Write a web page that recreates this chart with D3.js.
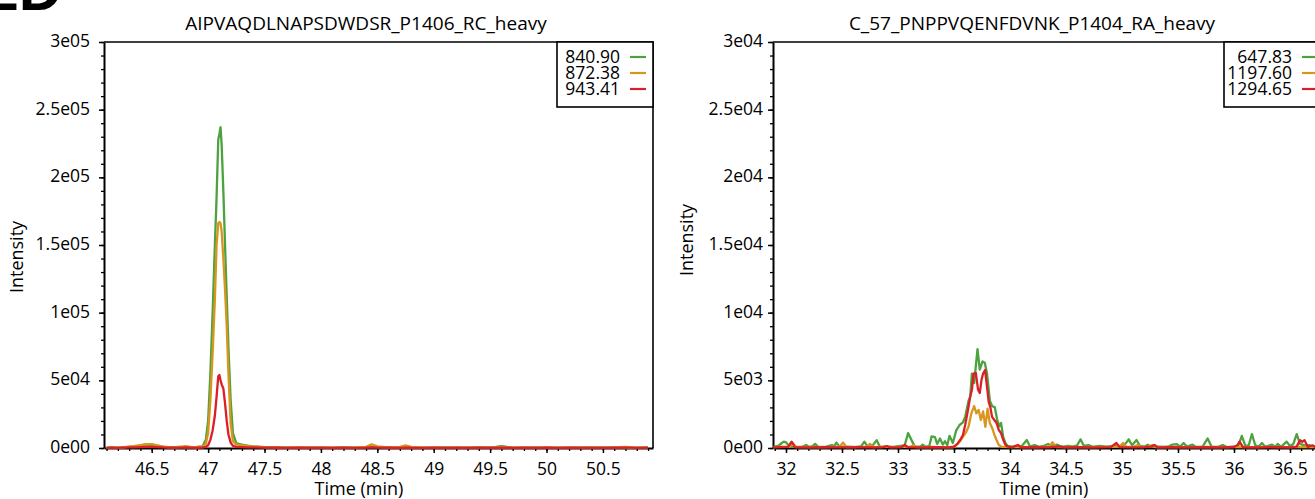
<!DOCTYPE html>
<html>
<head>
<meta charset="utf-8">
<script src="https://cdn.jsdelivr.net/npm/d3@7/dist/d3.min.js"></script>
<style>
  html, body { margin: 0; padding: 0; background: #fff; }
  svg { display: block; }
</style>
</head>
<body>
<svg id="chart" width="1315" height="499"></svg>
<script>
// ---- Panel titles and transition labels ----
const panelLetter = "ED";
const leftTitle = "AIPVAQDLNAPSDWDSR_P1406_RC_heavy";
const rightTitle = "C_57_PNPPVQENFDVNK_P1404_RA_heavy";
const leftMz = ["840.90", "872.38", "943.41"];
const rightMz = ["647.83", "1197.60", "1294.65"];
const seriesColors = ["#4ca23e", "#d8961f", "#dc1f26"];

// ---- Axis ticks ----
const leftYTicks = [0, 5e4, 1e5, 1.5e5, 2e5, 2.5e5, 3e5];
const leftYLabels = ["0e00", "5e04", "1e05", "1.5e05", "2e05", "2.5e05", "3e05"];
const rightYTicks = [0, 5e3, 1e4, 1.5e4, 2e4, 2.5e4, 3e4];
const rightYLabels = ["0e00", "5e03", "1e04", "1.5e04", "2e04", "2.5e04", "3e04"];
const leftXTicks = [46.5, 47, 47.5, 48, 48.5, 49, 49.5, 50, 50.5];
const rightXTicks = [32, 32.5, 33, 33.5, 34, 34.5, 35, 35.5, 36, 36.5];

// ---- Left chromatogram: retention time (min) and intensities ----
const leftTime = [
  46.10, 46.15, 46.20, 46.25, 46.30, 46.35, 46.40, 46.45, 46.50, 46.55, 46.60, 46.65, 46.70, 46.75, 46.80, 46.85, 46.90, 46.95,
  46.98, 47.00, 47.02, 47.04, 47.06, 47.075, 47.09, 47.10, 47.11, 47.12, 47.135, 47.15, 47.165, 47.18, 47.20, 47.22, 47.25,
  47.30, 47.35, 47.40, 47.50, 47.60, 47.70, 47.80, 47.90, 48.00, 48.10, 48.20, 48.30, 48.40, 48.45, 48.50, 48.60, 48.70, 48.75, 48.80,
  48.90, 49.00, 49.10, 49.20, 49.30, 49.40, 49.50, 49.55, 49.60, 49.65, 49.70, 49.80, 49.90, 50.00, 50.10, 50.20, 50.30, 50.40, 50.50,
  50.60, 50.70, 50.75, 50.80, 50.90
];
const leftGreen = [
  200, 400, 300, 600, 900, 1200, 1800, 2600, 2400, 1800, 900, 700, 600, 800, 500, 700, 900, 1200,
  6000, 20000, 55000, 100000, 150000, 185000, 228000, 232000, 237000, 224000, 190000, 150000, 112000, 75000, 35000, 11000, 3500,
  2500, 1800, 1200, 700, 500, 400, 300, 400, 300, 200, 400, 300, 600, 1000, 700, 400, 500, 800, 500,
  300, 200, 400, 300, 200, 400, 600, 900, 1300, 800, 500, 300, 400, 300, 200, 300, 400, 300, 400,
  500, 300, 200, 300, 300
];
const leftOrange = [
  100, 300, 200, 500, 1000, 1500, 2200, 2800, 2900, 2000, 1100, 600, 500, 900, 1300, 800, 600, 1000,
  3000, 11000, 35000, 70000, 110000, 150000, 166000, 167000, 166000, 160000, 140000, 117000, 90000, 55000, 18000, 5000, 2500,
  2000, 1500, 1000, 600, 400, 300, 400, 300, 200, 300, 200, 400, 900, 2800, 1200, 500, 900, 2000, 900,
  400, 300, 200, 300, 400, 300, 400, 600, 700, 500, 300, 200, 300, 400, 300, 200, 300, 200, 300,
  400, 900, 500, 300, 200
];
const leftRed = [
  100, 200, 100, 300, 400, 500, 700, 900, 800, 600, 400, 300, 200, 300, 400, 300, 200, 300,
  800, 2000, 6000, 13000, 24000, 38000, 53000, 54000, 50000, 47000, 44000, 33000, 20000, 10000, 4000, 1500, 800,
  700, 500, 400, 300, 200, 150, 200, 150, 200, 150, 200, 150, 250, 500, 300, 200, 150, 350, 200,
  150, 200, 150, 200, 150, 200, 150, 200, 300, 200, 150, 200, 150, 200, 150, 200, 150, 200, 150,
  200, 300, 250, 150, 200
];

// ---- Right chromatogram: [retention time (min), intensity] ----
const rightGreen = [
  [31.89, 100], [31.93, 150], [31.96, 350], [31.98, 470], [32.00, 420], [32.03, 100], [32.10, 80], [32.15, 100],
  [32.18, 220], [32.21, 60], [32.24, 150], [32.26, 300], [32.29, 60], [32.36, 100], [32.41, 220], [32.43, 120],
  [32.45, 400], [32.48, 80], [32.55, 100], [32.62, 60], [32.67, 120], [32.70, 470], [32.73, 80], [32.77, 150],
  [32.81, 580], [32.84, 60], [32.90, 100], [32.96, 80], [33.02, 150], [33.06, 200], [33.09, 1100], [33.12, 600],
  [33.15, 100], [33.20, 100], [33.22, 250], [33.25, 80], [33.28, 150], [33.30, 850], [33.33, 800], [33.35, 300],
  [33.375, 700], [33.40, 250], [33.42, 500], [33.44, 200], [33.46, 900], [33.49, 370], [33.52, 1300], [33.55, 1700],
  [33.58, 1900], [33.60, 2300], [33.63, 3500], [33.645, 3800], [33.66, 5500], [33.68, 4800], [33.71, 7300],
  [33.73, 5800], [33.755, 6400], [33.775, 6300], [33.795, 5500], [33.82, 3500], [33.84, 3100], [33.865, 3000],
  [33.885, 2100], [33.905, 1600], [33.92, 1850], [33.94, 800], [33.96, 350], [33.98, 150], [34.02, 80],
  [34.07, 150], [34.10, 100], [34.15, 590], [34.18, 100], [34.22, 220], [34.26, 80], [34.30, 150], [34.34, 300],
  [34.37, 100], [34.42, 250], [34.46, 80], [34.52, 150], [34.56, 100], [34.60, 200], [34.63, 640], [34.66, 150],
  [34.70, 220], [34.74, 80], [34.80, 150], [34.86, 100], [34.92, 150], [34.97, 100], [35.00, 150], [35.03, 300],
  [35.06, 640], [35.09, 200], [35.13, 590], [35.16, 150], [35.20, 100], [35.23, 250], [35.26, 80], [35.32, 100],
  [35.38, 80], [35.42, 120], [35.45, 250], [35.49, 280], [35.52, 100], [35.55, 370], [35.58, 100], [35.63, 250],
  [35.66, 80], [35.72, 100], [35.765, 710], [35.80, 100], [35.86, 80], [35.90, 220], [35.94, 60], [36.00, 100],
  [36.04, 200], [36.07, 890], [36.10, 200], [36.13, 150], [36.16, 1030], [36.19, 200], [36.22, 100], [36.25, 370],
  [36.28, 80], [36.34, 250], [36.37, 100], [36.39, 300], [36.42, 80], [36.47, 470], [36.50, 150], [36.53, 300],
  [36.56, 1030], [36.59, 300], [36.63, 200], [36.67, 220], [36.70, 80], [36.75, 150], [36.79, 100]
];
const rightOrange = [
  [31.89, 60], [31.96, 100], [32.03, 80], [32.06, 370], [32.09, 60], [32.20, 80], [32.35, 60], [32.48, 100],
  [32.51, 400], [32.54, 60], [32.65, 80], [32.72, 100], [32.75, 300], [32.78, 60], [32.87, 100], [32.95, 60],
  [33.05, 80], [33.11, 100], [33.14, 200], [33.17, 60], [33.30, 80], [33.40, 60], [33.49, 50], [33.52, 200],
  [33.555, 500], [33.58, 830], [33.61, 1200], [33.63, 1570], [33.655, 2560], [33.68, 3100], [33.70, 2560],
  [33.72, 2810], [33.74, 2070], [33.76, 2700], [33.78, 1570], [33.80, 2900], [33.82, 1840], [33.84, 1500],
  [33.86, 1000], [33.88, 590], [33.90, 220], [33.93, 80], [34.00, 60], [34.10, 80], [34.25, 60], [34.35, 100],
  [34.38, 420], [34.41, 60], [34.55, 80], [34.70, 60], [34.85, 80], [34.98, 100], [35.01, 370], [35.04, 80],
  [35.11, 100], [35.14, 220], [35.17, 60], [35.24, 100], [35.27, 220], [35.30, 60], [35.45, 80], [35.60, 60],
  [35.75, 80], [35.90, 60], [36.05, 80], [36.20, 60], [36.35, 80], [36.50, 60], [36.65, 80], [36.79, 60]
];
const rightRed = [
  [31.89, 40], [31.95, 60], [32.02, 80], [32.05, 470], [32.08, 60], [32.20, 40], [32.35, 60], [32.50, 40],
  [32.65, 60], [32.80, 40], [32.87, 60], [32.90, 150], [32.93, 40], [33.03, 60], [33.06, 220], [33.09, 60],
  [33.20, 40], [33.35, 60], [33.45, 40], [33.50, 100], [33.53, 300], [33.555, 590], [33.58, 960], [33.60, 1700],
  [33.625, 2800], [33.645, 3800], [33.66, 4280], [33.675, 5500], [33.695, 5550], [33.715, 4300], [33.73, 4060],
  [33.745, 5000], [33.76, 5500], [33.778, 5760], [33.795, 4500], [33.81, 3400], [33.825, 3000], [33.84, 2300],
  [33.86, 2070], [33.88, 1850], [33.90, 1330], [33.92, 1100], [33.94, 590], [33.96, 220], [33.98, 100],
  [34.02, 60], [34.07, 220], [34.10, 50], [34.20, 60], [34.35, 40], [34.45, 120], [34.48, 40], [34.60, 60],
  [34.75, 40], [34.90, 60], [34.95, 370], [34.98, 60], [35.10, 40], [35.20, 60], [35.26, 100], [35.29, 220],
  [35.32, 40], [35.45, 60], [35.60, 40], [35.75, 60], [35.90, 40], [36.00, 80], [36.03, 200], [36.05, 470],
  [36.08, 60], [36.20, 40], [36.35, 60], [36.50, 40], [36.56, 100], [36.59, 580], [36.61, 450], [36.63, 580],
  [36.66, 80], [36.70, 200], [36.73, 40], [36.79, 60]
];

// ---- Drawing ----
const FONT = "'Open Sans', 'Noto Sans', sans-serif";
const svg = d3.select("#chart");

// partially visible panel letter at the top-left edge
svg.append("text")
  .attr("x", 62).attr("y", 10)
  .attr("text-anchor", "end")
  .attr("font-family", "'Liberation Sans', Arial, sans-serif")
  .attr("font-weight", "bold")
  .attr("font-size", 60)
  .attr("fill", "#000")
  .text(panelLetter);

function minorTicks(lo, hi, step) {
  const out = [];
  const n0 = Math.ceil(lo / step - 1e-9), n1 = Math.floor(hi / step + 1e-9);
  for (let k = n0; k <= n1; k++) out.push(+(k * step).toFixed(6));
  return out;
}

function drawPanel(cfg) {
  const x = d3.scaleLinear().domain(cfg.xDomain).range([cfg.left, cfg.right]);
  const y = d3.scaleLinear().domain(cfg.yDomain).range([cfg.bottom, cfg.top]);
  const g = svg.append("g");

  // minor ticks
  g.append("g").attr("transform", `translate(${cfg.left},0)`)
    .call(d3.axisLeft(y).tickValues(minorTicks(cfg.yDomain[0], cfg.yDomain[1], cfg.yMinor))
      .tickSize(3).tickSizeOuter(0).tickFormat(""))
    .call(a => a.select(".domain").remove())
    .selectAll("line").attr("stroke", "#000").attr("stroke-width", 1.3);
  g.append("g").attr("transform", `translate(0,${cfg.bottom})`)
    .call(d3.axisBottom(x).tickValues(minorTicks(cfg.xDomain[0], cfg.xDomain[1], 0.1))
      .tickSize(3).tickSizeOuter(0).tickFormat(""))
    .call(a => a.select(".domain").remove())
    .selectAll("line").attr("stroke", "#000").attr("stroke-width", 1.3);

  // major y axis
  const ya = g.append("g").attr("transform", `translate(${cfg.left},0)`)
    .call(d3.axisLeft(y).tickValues(cfg.yTicks).tickSize(5).tickSizeOuter(0)
      .tickPadding(cfg.yPad).tickFormat((d, i) => cfg.yLabels[i]));
  ya.select(".domain").attr("stroke", "#000").attr("stroke-width", 2);
  ya.selectAll("line").attr("stroke", "#000").attr("stroke-width", 1.5);
  ya.selectAll("text").attr("font-family", FONT).attr("font-size", 17.5)
    .attr("fill", "#000").attr("dy", "0.26em");

  // major x axis
  const xa = g.append("g").attr("transform", `translate(0,${cfg.bottom})`)
    .call(d3.axisBottom(x).tickValues(cfg.xTicks).tickSize(5).tickSizeOuter(0)
      .tickPadding(9.5).tickFormat(d3.format("")));
  xa.select(".domain").attr("stroke", "#000").attr("stroke-width", 2);
  xa.selectAll("line").attr("stroke", "#000").attr("stroke-width", 1.5);
  xa.selectAll("text").attr("font-family", FONT).attr("font-size", 17.5).attr("fill", "#000");

  // chromatogram traces
  const clipId = "clip-" + cfg.id;
  svg.append("clipPath").attr("id", clipId).append("rect")
    .attr("x", cfg.left).attr("y", cfg.top)
    .attr("width", cfg.right - cfg.left).attr("height", cfg.bottom - cfg.top + 1);
  const line = d3.line().x(d => x(d[0])).y(d => y(d[1])).curve(d3.curveLinear);
  g.append("g").attr("clip-path", `url(#${clipId})`)
    .selectAll("path").data(cfg.series).join("path")
    .attr("d", d => line(d.values))
    .attr("fill", "none")
    .attr("stroke", d => d.color)
    .attr("stroke-width", 2.3)
    .attr("stroke-linejoin", "round");

  // frame (top and right)
  g.append("path")
    .attr("d", `M${cfg.left},${cfg.top}H${cfg.right}V${cfg.bottom}`)
    .attr("fill", "none").attr("stroke", "#000").attr("stroke-width", 1.6);

  // title
  g.append("text").attr("x", cfg.titleX).attr("y", 30)
    .attr("text-anchor", "middle").attr("font-family", FONT).attr("font-size", 19)
    .attr("fill", "#000").text(cfg.title);

  // axis titles
  g.append("text").attr("x", cfg.xTitleX).attr("y", 495)
    .attr("text-anchor", "middle").attr("font-family", FONT).attr("font-size", 18)
    .attr("fill", "#000").text("Time (min)");
  g.append("text")
    .attr("transform", `translate(${cfg.yTitleX},${cfg.yTitleY}) rotate(-90)`)
    .attr("text-anchor", "middle").attr("font-family", FONT).attr("font-size", 18)
    .attr("fill", "#000").text("Intensity");

  // legend
  const lg = g.append("g");
  lg.append("rect")
    .attr("x", cfg.legendX).attr("y", cfg.top)
    .attr("width", cfg.right - cfg.legendX).attr("height", 65)
    .attr("fill", "#fff").attr("stroke", "#000").attr("stroke-width", 1.6);
  cfg.series.forEach((s, i) => {
    const cy = cfg.top + 15 + i * 16;
    lg.append("text").attr("x", cfg.legendTextX).attr("y", cy + 5.5)
      .attr("text-anchor", "end").attr("font-family", FONT).attr("font-size", 17.5)
      .attr("fill", "#000").text(s.name);
    lg.append("line")
      .attr("x1", cfg.legendTextX + 10).attr("x2", cfg.legendTextX + 26)
      .attr("y1", cy).attr("y2", cy)
      .attr("stroke", s.color).attr("stroke-width", 2.2);
  });
}

const toPairs = vals => vals.map((v, i) => [leftTime[i], v]);

drawPanel({
  id: "left",
  left: 104, right: 653, top: 42, bottom: 448,
  xDomain: [46.077, 50.944], yDomain: [0, 3e5], yMinor: 1e4,
  xTicks: leftXTicks, yTicks: leftYTicks, yLabels: leftYLabels, yPad: 9,
  title: leftTitle, titleX: 366, xTitleX: 359, yTitleX: 23, yTitleY: 257,
  legendX: 557, legendTextX: 620,
  series: [
    { name: leftMz[0], color: seriesColors[0], values: toPairs(leftGreen) },
    { name: leftMz[1], color: seriesColors[1], values: toPairs(leftOrange) },
    { name: leftMz[2], color: seriesColors[2], values: toPairs(leftRed) }
  ]
});

drawPanel({
  id: "right",
  left: 773, right: 1321, top: 42, bottom: 448,
  xDomain: [31.884, 36.777], yDomain: [0, 3e4], yMinor: 1e3,
  xTicks: rightXTicks, yTicks: rightYTicks, yLabels: rightYLabels, yPad: 5,
  title: rightTitle, titleX: 1032, xTitleX: 1044, yTitleX: 693, yTitleY: 240,
  legendX: 1224, legendTextX: 1292,
  series: [
    { name: rightMz[0], color: seriesColors[0], values: rightGreen },
    { name: rightMz[1], color: seriesColors[1], values: rightOrange },
    { name: rightMz[2], color: seriesColors[2], values: rightRed }
  ]
});
</script>
</body>
</html>
